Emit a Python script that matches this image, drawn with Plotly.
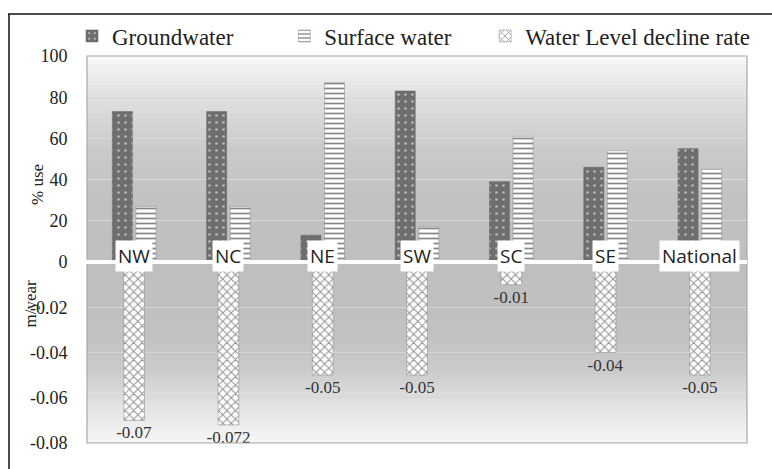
import plotly.graph_objects as go
from plotly.subplots import make_subplots
import numpy as np

regions = ["NW", "NC", "NE", "SW", "SC", "SE", "National"]
groundwater = [73, 73, 13, 83, 39, 46, 55]
surface_water = [27, 27, 87, 17, 61, 54, 45]
decline_rate = [-0.07, -0.072, -0.05, -0.05, -0.01, -0.04, -0.05]
pct_ticks = [0, 20, 40, 60, 80, 100]
rate_ticks = [-0.08, -0.06, -0.04, -0.02]
rate_tick_text = ["-0.08", "-0.06", "-0.04", "-0.02"]

W, H = 772, 469
ml, mr, mt, mb = 87, 25, 56, 26
ph = H - mt - mb
split = (H - mb - 262) / ph  # paper y of zero line

fig = make_subplots(rows=2, cols=1, shared_xaxes=True, vertical_spacing=0,
                    row_heights=[1 - split, split])

serif = "Liberation Serif"
fx = lambda px: (px - ml) / (W - ml - mr)
fy = lambda py: (H - mb - py) / ph
nb = "\u00a0"  # legend spacing padding

fig.add_trace(go.Bar(
    x=regions, y=groundwater, name="Groundwater" + nb * 8,
    marker=dict(color="#6e6e6e", line=dict(color="#606060", width=0.5),
                pattern=dict(shape=".", fgcolor="#ffffff", bgcolor="#6e6e6e",
                             size=7, solidity=0.12)),
), row=1, col=1)
fig.add_trace(go.Bar(
    x=regions, y=surface_water, name="Surface water" + nb * 5,
    marker=dict(color="#ffffff", line=dict(color="#888888", width=0.5),
                pattern=dict(shape="-", fgcolor="#111111", bgcolor="#ffffff",
                             size=5, solidity=0.35)),
), row=1, col=1)
fig.add_trace(go.Bar(
    x=regions, y=decline_rate, name="Water Level decline rate",
    text=[f"{v:g}" for v in decline_rate], textposition="outside",
    constraintext="none",
    textfont=dict(family=serif, size=17, color="#333333"),
    cliponaxis=False, width=0.22,
    marker=dict(color="#ffffff", line=dict(color="#888888", width=0.5),
                pattern=dict(shape="x", fgcolor="#222222", bgcolor="#ffffff",
                             size=6, solidity=0.3)),
), row=2, col=1)

shapes = []
def interp(t, pts):
    xs = [p[0] for p in pts]; ys = [p[1] for p in pts]
    return float(np.interp(t, xs, ys))

top_pts = [(0, 248), (0.2, 224), (0.45, 202), (0.7, 194), (1, 191)]
bot_pts = [(0, 191), (0.4, 193), (0.6, 203), (0.8, 228), (1, 246)]
N = 50
ov = 0.004
for i in range(N):
    t = (i + 0.5) / N
    c = int(round(interp(t, top_pts)))
    y1 = 1 - i * (1 - split) / N
    y0 = 1 - (i + 1) * (1 - split) / N
    shapes.append(dict(type="rect", xref="paper", yref="paper", x0=0, x1=1,
                       y0=max(y0 - ov, split), y1=y1, fillcolor=f"rgb({c},{c},{c})",
                       line=dict(width=0), layer="below"))
for i in range(N):
    t = (i + 0.5) / N
    c = int(round(interp(t, bot_pts)))
    y1 = split - i * split / N
    y0 = split - (i + 1) * split / N
    shapes.append(dict(type="rect", xref="paper", yref="paper", x0=0, x1=1,
                       y0=max(y0 - ov, 0), y1=y1, fillcolor=f"rgb({c},{c},{c})",
                       line=dict(width=0), layer="below"))

shapes.append(dict(type="rect", xref="paper", yref="paper", x0=0, x1=1, y0=0, y1=1,
                   line=dict(color="#a8a8a8", width=1.2), layer="above"))
shapes.append(dict(type="line", xref="paper", yref="paper", x0=-0.004, x1=1,
                   y0=split, y1=split, line=dict(color="#ffffff", width=4),
                   layer="above"))
shapes.append(dict(type="line", xref="paper", yref="paper", x0=fx(8), x1=fx(772),
                   y0=fy(14), y1=fy(14), line=dict(color="#111111", width=1.5)))
shapes.append(dict(type="line", xref="paper", yref="paper", x0=fx(9), x1=fx(9),
                   y0=fy(14), y1=fy(469), line=dict(color="#111111", width=1.5)))

annotations = []
for r in regions:
    annotations.append(dict(x=r, y=0, xref="x", yref="y", text=r, showarrow=False,
                            yanchor="middle", yshift=6, bgcolor="#ffffff",
                            borderpad=2,
                            font=dict(family="Open Sans", size=19, color="#222222")))
annotations.append(dict(x=fx(26), y=fy(162), xref="paper", yref="paper", text="% use",
                        textangle=-90, showarrow=False,
                        font=dict(family=serif, size=17, color="#222222")))
annotations.append(dict(x=fx(18), y=fy(330), xref="paper", yref="paper", text="m/year",
                        textangle=-90, showarrow=False,
                        font=dict(family=serif, size=17, color="#222222")))

fig.update_layout(
    width=W, height=H, margin=dict(l=ml, r=mr, t=mt, b=mb),
    paper_bgcolor="#ffffff", plot_bgcolor="rgba(0,0,0,0)",
    barmode="group", bargap=0.5, bargroupgap=0.15,
    shapes=shapes, annotations=annotations,
    font=dict(family=serif),
    showlegend=True,
    legend=dict(orientation="h", x=fx(72), y=fy(36), xanchor="left", yanchor="middle",
                font=dict(family=serif, size=23, color="#222222"),
                bgcolor="rgba(0,0,0,0)", traceorder="normal"),
)
fig.update_xaxes(showticklabels=False, showgrid=False, zeroline=False, showline=False)
fig.update_yaxes(range=[0, 100], tickvals=pct_ticks, showgrid=True, gridcolor="#d9d9d9",
                 gridwidth=1.2, zeroline=False, ticks="outside", ticklen=15,
                 tickcolor="rgba(0,0,0,0)",
                 tickfont=dict(family=serif, size=18, color="#222222"), row=1, col=1)
fig.update_yaxes(range=[-0.08, 0], tickvals=rate_ticks, ticktext=rate_tick_text,
                 showgrid=True, gridcolor="#d6d6d6", gridwidth=1.2, zeroline=False,
                 ticks="outside", ticklen=15, tickcolor="rgba(0,0,0,0)",
                 tickfont=dict(family=serif, size=18, color="#222222"), row=2, col=1)

fig.write_html("out.html")
